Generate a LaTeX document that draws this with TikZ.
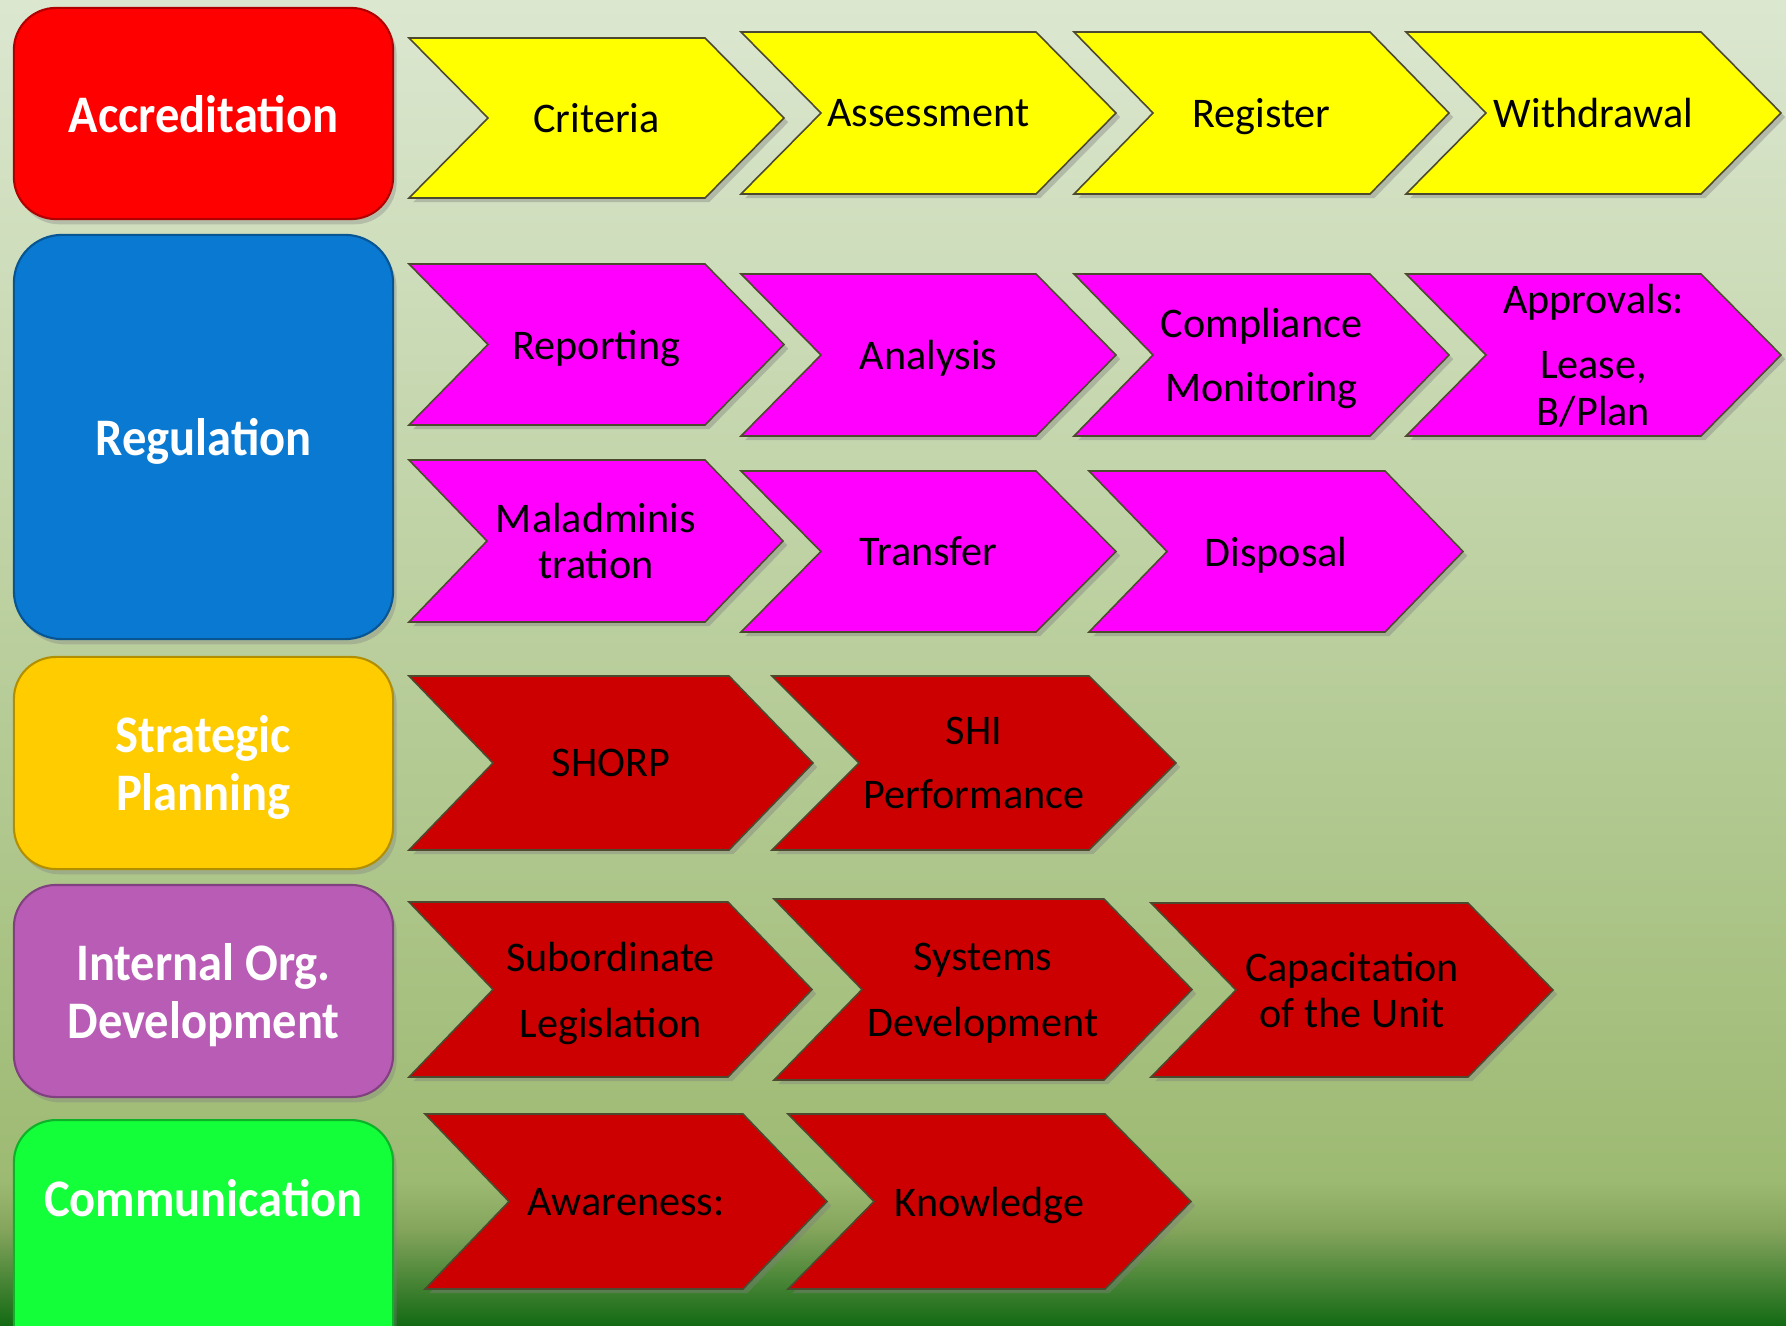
\documentclass[tikz,border=0pt]{standalone}
\usepackage{fontspec}
\setmainfont{Carlito}
\newfontfamily\boxfont[FakeStretch=0.92]{Carlito}
\usepackage{tikz}
\usetikzlibrary{shadows}
\definecolor{bgtop}{HTML}{DCE7D0}
\definecolor{bgmid}{HTML}{9DBA72}
\definecolor{bglow}{HTML}{84A45C}
\definecolor{bgend}{HTML}{146A14}
\definecolor{accred}{HTML}{FF0000}
\definecolor{regblue}{HTML}{0A79D1}
\definecolor{stratgold}{HTML}{FFCC00}
\definecolor{orgviolet}{HTML}{B85CB5}
\definecolor{commgreen}{HTML}{12FF3A}
\definecolor{chevyellow}{HTML}{FFFF00}
\definecolor{chevpink}{HTML}{FF00FF}
\definecolor{chevred}{HTML}{CC0000}
\tikzset{
  catbox/.style={rectangle, rounded corners=0.42cm, fill=#1, draw=#1!70!black, line width=0.6pt,
    minimum width=3.79cm, text=white, align=center, inner sep=0pt, text depth=0pt,
    font=\boxfont\bfseries\fontsize{15}{16.5}\selectfont,
    drop shadow={shadow xshift=1pt, shadow yshift=-1.5pt, opacity=0.35}},
  chev/.style={fill=#1, draw=black!60!olive, line width=0.45pt,
    drop shadow={shadow xshift=1.2pt, shadow yshift=-1.2pt, opacity=0.4}},
  lbl/.style={align=center, inner sep=0pt, text depth=0pt, font=\fontsize{12}{13.2}\selectfont}
}
\begin{document}
\begin{tikzpicture}[x=0.01cm, y=-0.01cm]
        \clip (0,0) rectangle (1786,1325);
        \shade[top color=bgtop, bottom color=bgmid] (0,0) rectangle (1786,1181);
        \shade[top color=bgmid, bottom color=bglow] (0,1180) rectangle (1786,1231);
        \shade[top color=bglow, bottom color=bgend] (0,1230) rectangle (1786,1325);

        \node[catbox=accred, minimum height=2.11cm] (accr) at (203.5,113.5) {Accreditation};
        \node[catbox=regblue, minimum height=4.04cm, rounded corners=0.48cm] (regul) at (203.5,437) {Regulation};
        \node[catbox=stratgold, minimum height=2.12cm] (strat) at (203.5,763) {Strategic\\Planning};
        \node[catbox=orgviolet, minimum height=2.12cm] (intorg) at (203.5,991) {Internal Org.\\Development};
        \node[catbox=commgreen, minimum height=2.6cm, anchor=north] (comm) at (203.5,1119) {};
        \node[text=white, text depth=0pt, font=\boxfont\bfseries\fontsize{15}{16.5}\selectfont] (commlbl) at (203.5,1198) {Communication};

        \draw[chev=chevyellow] (409,38)--++(296,0)--++(79,80)--++(-79,80)--++(-296,0)--++(79,-80)--cycle;
        \node[lbl] (crit) at (596.5,118) {Criteria};
        \draw[chev=chevyellow] (741,32)--++(295,0)--++(80,81)--++(-80,81)--++(-295,0)--++(80,-81)--cycle;
        \node[lbl] (assess) at (928.5,113) {Assessment};
        \draw[chev=chevyellow] (1074,32)--++(296,0)--++(79,81)--++(-79,81)--++(-296,0)--++(79,-81)--cycle;
        \node[lbl] (regist) at (1261.5,113) {Register};
        \draw[chev=chevyellow] (1406,32)--++(295,0)--++(80,81)--++(-80,81)--++(-295,0)--++(80,-81)--cycle;
        \node[lbl] (withdr) at (1593.5,113) {Withdrawal};

        \draw[chev=chevpink] (409,264)--++(296,0)--++(79,80.5)--++(-79,80.5)--++(-296,0)--++(79,-80.5)--cycle;
        \node[lbl] (report) at (596.5,344.5) {Reporting};
        \draw[chev=chevpink] (741,274)--++(295,0)--++(80,81)--++(-80,81)--++(-295,0)--++(80,-81)--cycle;
        \node[lbl] (analys) at (928.5,355) {Analysis};
        \draw[chev=chevpink] (1074,274)--++(296,0)--++(79,81)--++(-79,81)--++(-296,0)--++(79,-81)--cycle;
        \node[lbl] (complmon) at (1261.5,355) {Compliance\\[5pt]Monitoring};
        \draw[chev=chevpink] (1406,274)--++(295,0)--++(80,81)--++(-80,81)--++(-295,0)--++(80,-81)--cycle;
        \node[lbl] (approv) at (1593.5,354.5) {Approvals:\\[5.5pt]Lease,\\B/Plan};

        \draw[chev=chevpink] (409,460)--++(296,0)--++(78,81)--++(-78,81)--++(-296,0)--++(78,-81)--cycle;
        \node[lbl] (maladm) at (596,541) {Maladminis\\tration};
        \draw[chev=chevpink] (741,471)--++(295,0)--++(80,80.5)--++(-80,80.5)--++(-295,0)--++(80,-80.5)--cycle;
        \node[lbl] (transf) at (928.5,551.5) {Transfer};
        \draw[chev=chevpink] (1089,471)--++(296,0)--++(78,80.5)--++(-78,80.5)--++(-296,0)--++(78,-80.5)--cycle;
        \node[lbl] (dispos) at (1276,551.5) {Disposal};

        \draw[chev=chevred] (409,676)--++(320,0)--++(84,87)--++(-84,87)--++(-320,0)--++(84,-87)--cycle;
        \node[lbl] (shorp) at (611,763) {SHORP};
        \draw[chev=chevred] (772,676)--++(317,0)--++(87,87)--++(-87,87)--++(-317,0)--++(87,-87)--cycle;
        \node[lbl] (shiperf) at (974,763) {SHI\\[5pt]Performance};

        \draw[chev=chevred] (409,902)--++(319,0)--++(84,87.5)--++(-84,87.5)--++(-319,0)--++(84,-87.5)--cycle;
        \node[lbl] (sublegis) at (610.5,989.5) {Subordinate\\[5.5pt]Legislation};
        \draw[chev=chevred] (774,899)--++(330,0)--++(88,90.5)--++(-88,90.5)--++(-330,0)--++(88,-90.5)--cycle;
        \node[lbl] (sysdev) at (983,989.5) {Systems\\[5.5pt]Development};
        \draw[chev=chevred] (1151,903)--++(317,0)--++(85,87)--++(-85,87)--++(-317,0)--++(85,-87)--cycle;
        \node[lbl] (capunit) at (1352,990) {Capacitation\\of the Unit};

        \draw[chev=chevred] (425,1114)--++(318,0)--++(84,87.5)--++(-84,87.5)--++(-318,0)--++(84,-87.5)--cycle;
        \node[lbl] (aware) at (626,1201.5) {Awareness:};
        \draw[chev=chevred] (788,1114)--++(317,0)--++(86,87.5)--++(-86,87.5)--++(-317,0)--++(86,-87.5)--cycle;
        \node[lbl] (knowl) at (989.5,1201.5) {Knowledge};
    \end{tikzpicture}
\end{document}
